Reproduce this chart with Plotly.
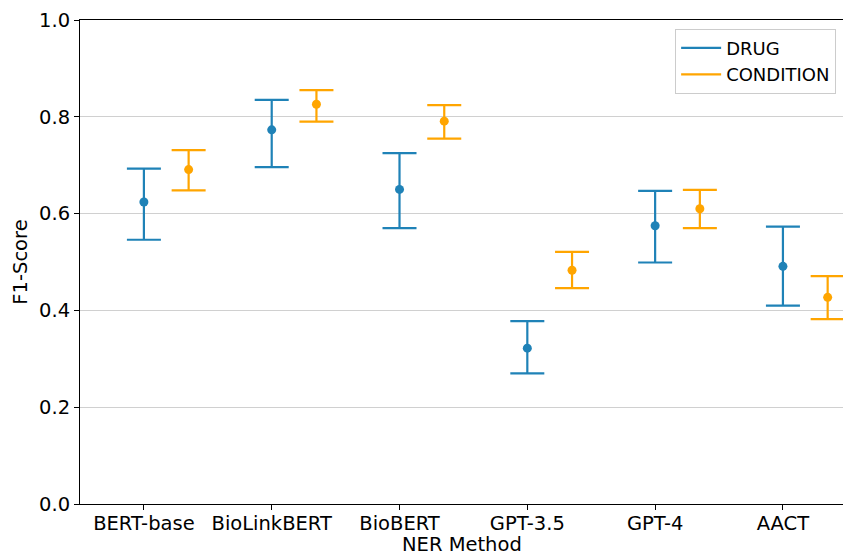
import plotly.graph_objects as go

methods = ["BERT-base", "BioLinkBERT", "BioBERT", "GPT-3.5", "GPT-4", "AACT"]
drug_f1 = [0.624, 0.773, 0.650, 0.322, 0.575, 0.491]
drug_hi = [0.693, 0.835, 0.725, 0.378, 0.647, 0.573]
drug_lo = [0.546, 0.696, 0.570, 0.270, 0.499, 0.410]
cond_f1 = [0.691, 0.826, 0.791, 0.483, 0.610, 0.427]
cond_hi = [0.731, 0.855, 0.824, 0.521, 0.649, 0.471]
cond_lo = [0.648, 0.790, 0.755, 0.446, 0.570, 0.382]
offset = 0.35

DRUG_C = "#1f82b7"
COND_C = "#ffa500"
FONT = "DejaVu Sans"

xd = list(range(len(methods)))
xc = [i + offset for i in xd]

fig = go.Figure()

def add_series(x, y, hi, lo, color, name):
    fig.add_trace(go.Scatter(
        x=x, y=y, mode="markers",
        marker=dict(color=color, size=9),
        error_y=dict(type="data", symmetric=False,
                     array=[h - v for h, v in zip(hi, y)],
                     arrayminus=[v - l for v, l in zip(y, lo)],
                     color=color, thickness=2.2, width=17),
        showlegend=False, name=name))
    fig.add_trace(go.Scatter(
        x=[None], y=[None], mode="lines",
        line=dict(color=color, width=2.2), name=name, showlegend=True))

add_series(xd, drug_f1, drug_hi, drug_lo, DRUG_C, "DRUG")
add_series(xc, cond_f1, cond_hi, cond_lo, COND_C, "CONDITION")

fig.update_layout(
    width=843, height=555,
    margin=dict(l=80, r=0, t=20, b=51),
    plot_bgcolor="white", paper_bgcolor="white",
    font=dict(family=FONT, size=19.5, color="black"),
    legend=dict(x=0.991, y=0.982, xanchor="right", yanchor="top",
                bgcolor="white", bordercolor="#cccccc", borderwidth=1,
                font=dict(size=18, family=FONT), tracegroupgap=2,
                itemwidth=40),
    annotations=[dict(text="NER Method", xref="paper", yref="paper",
                      x=0.5, y=-0.1054, xanchor="center", yanchor="bottom",
                      yshift=-3, showarrow=False,
                      font=dict(size=19.5, family=FONT, color="black"))],
)
fig.update_xaxes(
    range=[-0.5, 5.47], tickmode="array", tickvals=xd, ticktext=methods,
    showgrid=False, zeroline=False, showline=True, linecolor="black",
    linewidth=1, mirror=True, ticks="outside", ticklen=5, tickcolor="black",
    ticklabelstandoff=-3,
    automargin=False,
)
fig.update_yaxes(
    range=[0, 1], tickmode="array", tickvals=[0, 0.2, 0.4, 0.6, 0.8, 1.0],
    ticktext=["0.0", "0.2", "0.4", "0.6", "0.8", "1.0"],
    showgrid=True, gridcolor="#d0d0d0", gridwidth=1, zeroline=False,
    showline=True, linecolor="black", linewidth=1, mirror=False,
    ticks="outside", ticklen=5, tickcolor="black",
    title=dict(text="F1-Score", standoff=6, font=dict(size=19.5)),
    automargin=False,
)

fig.write_html("out.html")
